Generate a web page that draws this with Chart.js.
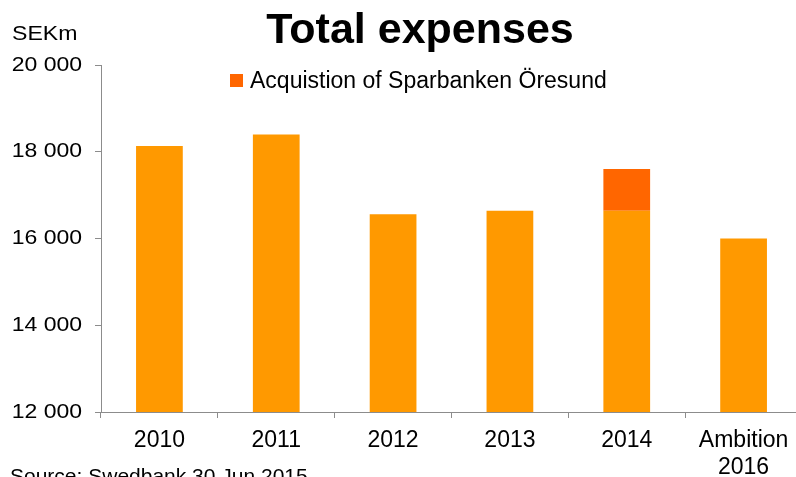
<!DOCTYPE html>
<html>
<head>
<meta charset="utf-8">
<script src="https://cdn.jsdelivr.net/npm/chart.js@4/dist/chart.umd.min.js"></script>
<style>
  html, body { margin: 0; padding: 0; background: #fff; overflow: hidden; width: 796px; height: 477px; }
  #wrap { position: relative; width: 796px; height: 477px; overflow: hidden; font-family: "Liberation Sans", Arial, sans-serif; color: #000; }
  #chart { position: absolute; left: 0; top: 0; }
  .txt { position: absolute; white-space: nowrap; line-height: 1; }
  #title { left: 0; width: 840px; top: 7px; text-align: center; font-size: 43px; font-weight: bold; }
  #unit { left: 12px; top: 22px; font-size: 21px; transform: scaleX(1.1); transform-origin: 0 0; }
  #legendBox { left: 230px; top: 74px; width: 13px; height: 13px; background: #FF6600; }
  #legendText { left: 250px; top: 69px; font-size: 23px; }
  #source { left: 10px; top: 465px; font-size: 21px; }
</style>
</head>
<body>
<div id="wrap">
  <canvas id="chart" width="810" height="477"></canvas>
  <div class="txt" id="title">Total expenses</div>
  <div class="txt" id="unit">SEKm</div>
  <div class="txt" id="legendBox"></div>
  <div class="txt" id="legendText">Acquistion of Sparbanken Öresund</div>
  <div class="txt" id="source">Source: Swedbank 30 Jun 2015</div>
</div>
<script>
// Categories and values (SEKm)
const categories = ['2010', '2011', '2012', '2013', '2014', ['Ambition', '2016']];
const baseExpenses = [18130, 18400, 16560, 16640, 16640, 16000];
const acquisition = [null, null, null, null, 960, null];
const yTicks = [12000, 14000, 16000, 18000, 20000];

const fmt = v => String(v).replace(/\B(?=(\d{3})+(?!\d))/g, ' ');

// Y tick labels drawn slightly widened, right-aligned next to the tick marks
const wideYLabels = {
  id: 'wideYLabels',
  afterDraw(chart) {
    const y = chart.scales.y;
    const ctx = chart.ctx;
    ctx.save();
    ctx.fillStyle = '#000';
    ctx.font = '20px "Liberation Sans", Arial, sans-serif';
    ctx.textAlign = 'right';
    ctx.textBaseline = 'middle';
    y.ticks.forEach(t => {
      const py = y.getPixelForValue(t.value);
      ctx.save();
      ctx.translate(82, py);
      ctx.scale(1.15, 1);
      ctx.fillText(fmt(t.value), 0, 0);
      ctx.restore();
    });
    ctx.restore();
  }
};

new Chart(document.getElementById('chart'), {
  type: 'bar',
  data: {
    labels: categories,
    datasets: [
      { label: 'Total expenses', data: baseExpenses, backgroundColor: '#FF9900', barPercentage: 0.4, categoryPercentage: 1.0 },
      { label: 'Acquistion of Sparbanken Öresund', data: acquisition, backgroundColor: '#FF6600', barPercentage: 0.4, categoryPercentage: 1.0 }
    ]
  },
  plugins: [wideYLabels],
  options: {
    responsive: false,
    animation: false,
    devicePixelRatio: 1,
    layout: { padding: { top: 65, left: 0, right: 8, bottom: 0 } },
    plugins: { legend: { display: false }, tooltip: { enabled: false }, title: { display: false } },
    scales: {
      x: {
        stacked: true,
        afterFit: s => { s.height = 65; },
        grid: { display: true, drawOnChartArea: false, drawTicks: true, tickLength: 6, color: '#8c8c8c', offset: true },
        border: { display: true, color: '#8c8c8c', width: 1 },
        ticks: { color: '#000', font: { family: 'Liberation Sans', size: 23, lineHeight: 1.18 }, padding: 9, maxRotation: 0, autoSkip: false }
      },
      y: {
        stacked: true,
        min: 12000,
        max: 20000,
        afterBuildTicks: s => { s.ticks = yTicks.map(v => ({ value: v })); },
        afterFit: s => { s.width = 101; },
        grid: { display: true, drawOnChartArea: false, drawTicks: true, tickLength: 6, color: '#8c8c8c' },
        border: { display: true, color: '#8c8c8c', width: 1 },
        ticks: { display: false }
      }
    }
  }
});
</script>
</body>
</html>
